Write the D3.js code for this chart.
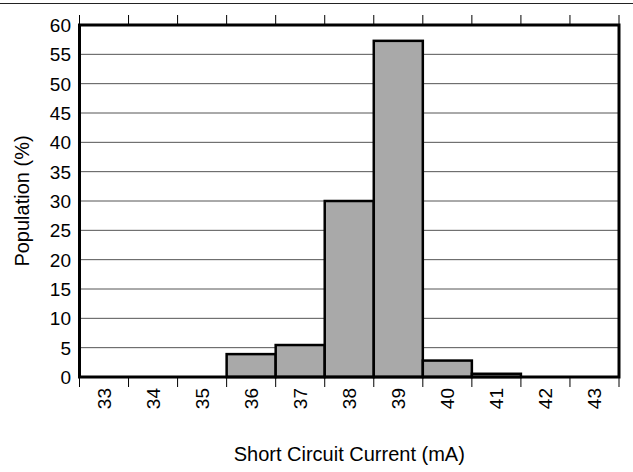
<!DOCTYPE html>
<html><head><meta charset="utf-8">
<script src="https://cdn.jsdelivr.net/npm/d3@7"></script>
<style>body{margin:0;background:#fff;} text{font-family:"Liberation Sans",Arial,sans-serif;}</style>
</head><body>
<svg id="c" width="633" height="472"></svg>
<script>
const categories = ["33","34","35","36","37","38","39","40","41","42","43"];
const values = [0,0,0,3.9,5.45,30,57.3,2.8,0.55,0,0];
const yTicks = [0,5,10,15,20,25,30,35,40,45,50,55,60];
const xTitle = "Short Circuit Current (mA)";
const yTitle = "Population (%)";

const svg = d3.select("#c");
const L=79.5, R=619, T=25, B=377;
const x = d3.scaleBand().domain(categories).range([L,R]).padding(0);
const y = d3.scaleLinear().domain([0,60]).range([B,T]);

svg.append("line").attr("x1",0).attr("x2",633).attr("y1",3.5).attr("y2",3.5).attr("stroke","#222").attr("stroke-width",1);

// gridlines
svg.append("g").selectAll("line").data(yTicks.filter(d=>d>0&&d<60)).join("line")
  .attr("x1",L).attr("x2",R).attr("y1",d=>y(d)).attr("y2",d=>y(d))
  .attr("stroke","#555").attr("stroke-width",1);

// bars
svg.append("g").selectAll("rect").data(categories.map((c,i)=>({c,v:values[i]})).filter(d=>d.v>0)).join("rect")
  .attr("x",d=>x(d.c)).attr("width",x.bandwidth())
  .attr("y",d=>y(d.v)).attr("height",d=>B-y(d.v))
  .attr("fill","#a9a9a9").attr("stroke","#000").attr("stroke-width",2.5);

// frame
svg.append("rect").attr("x",L).attr("y",T).attr("width",R-L).attr("height",B-T)
  .attr("fill","none").attr("stroke","#000").attr("stroke-width",3);

// top ticks & bottom ticks at band edges
const edges = categories.map(c=>x(c)).concat([R]);
svg.append("g").selectAll("line").data(edges).join("line")
  .attr("x1",d=>d).attr("x2",d=>d).attr("y1",T-10).attr("y2",T).attr("stroke","#000").attr("stroke-width",1);
svg.append("g").selectAll("line").data(edges).join("line")
  .attr("x1",d=>d).attr("x2",d=>d).attr("y1",B).attr("y2",B+10).attr("stroke","#000").attr("stroke-width",1);

// y labels
svg.append("g").selectAll("text").data(yTicks).join("text")
  .attr("x",71).attr("y",d=>y(d)).attr("dy","0.36em").attr("text-anchor","end")
  .attr("font-size",19).attr("fill","#000").text(d=>d);

// x labels
svg.append("g").selectAll("text").data(categories).join("text")
  .attr("transform",d=>`translate(${x(d)+x.bandwidth()/2},388) rotate(-90)`)
  .attr("dy","0.36em").attr("text-anchor","end").attr("font-size",19).attr("fill","#000").text(d=>d);

svg.append("text").attr("x",(L+R)/2).attr("y",461).attr("text-anchor","middle").attr("font-size",20).text(xTitle);
svg.append("text").attr("transform",`translate(29,${(T+B)/2}) rotate(-90)`).attr("text-anchor","middle").attr("font-size",20).text(yTitle);
</script>
</body></html>
